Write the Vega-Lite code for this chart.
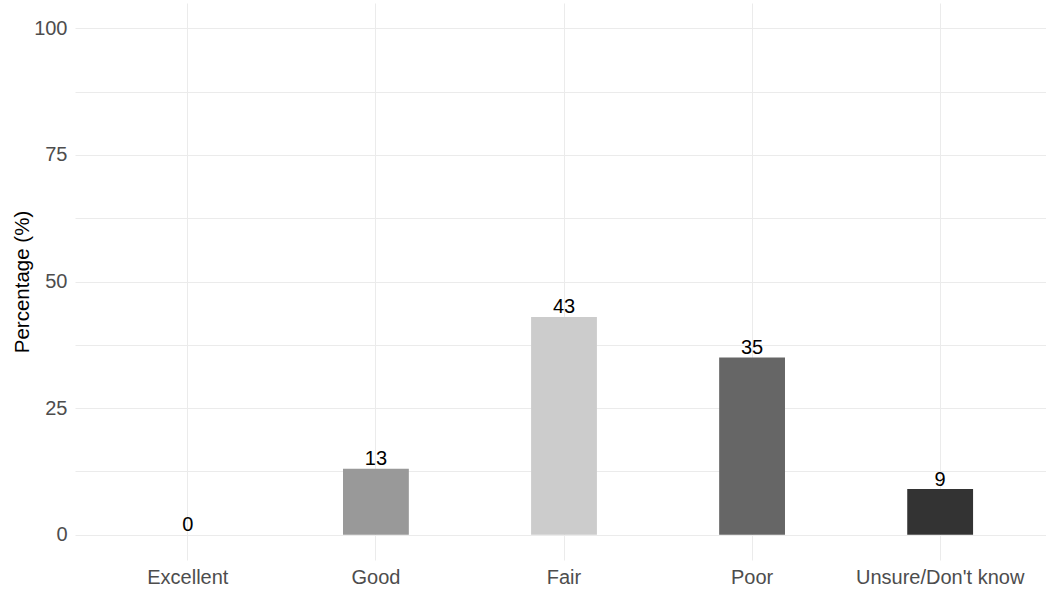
{
  "$schema": "https://vega.github.io/schema/vega-lite/v6.json",
  "autosize": {"type": "none"},
  "padding": {"left": 75, "top": 3, "right": 0, "bottom": 30},
  "width": 971,
  "height": 557,
  "background": "white",
  "config": {
    "view": {"stroke": null},
    "font": "Liberation Sans",
    "axis": {
      "domain": false,
      "ticks": false,
      "gridColor": "#EBEBEB",
      "gridWidth": 1,
      "labelColor": "#4D4D4D",
      "labelFont": "Liberation Sans",
      "labelFontSize": 20,
      "titleFont": "Liberation Sans",
      "titleFontWeight": "normal",
      "titleColor": "#000000"
    }
  },
  "data": {
    "values": [
      {"rating": "Excellent", "pct": 0, "shade": "#E5E5E5"},
      {"rating": "Good", "pct": 13, "shade": "#999999"},
      {"rating": "Fair", "pct": 43, "shade": "#CCCCCC"},
      {"rating": "Poor", "pct": 35, "shade": "#666666"},
      {"rating": "Unsure/Don't know", "pct": 9, "shade": "#333333"}
    ]
  },
  "encoding": {
    "x": {
      "field": "rating",
      "type": "nominal",
      "sort": null,
      "scale": {"range": [0, 978], "paddingInner": 0.65, "paddingOuter": 0.425},
      "axis": {
        "title": null,
        "labelAngle": 0,
        "labelPadding": 7,
        "grid": true,
        "bandPosition": 0.5
      }
    },
    "y": {
      "field": "pct",
      "type": "quantitative",
      "scale": {"domain": [-5, 105], "nice": false, "zero": false},
      "axis": {
        "title": "Percentage (%)",
        "titleFontSize": 20.5,
        "titleAngle": -90,
        "titleAlign": "center",
        "titleBaseline": "alphabetic",
        "titleX": -47,
        "titleY": 278.5,
        "values": [0, 12.5, 25, 37.5, 50, 62.5, 75, 87.5, 100],
        "labelExpr": "datum.value % 25 === 0 ? datum.label : ''",
        "labelPadding": 8
      }
    }
  },
  "layer": [
    {
      "mark": {"type": "bar"},
      "encoding": {
        "y2": {"datum": 0},
        "color": {"field": "shade", "type": "nominal", "scale": null, "legend": null}
      }
    },
    {
      "mark": {
        "type": "text",
        "baseline": "alphabetic",
        "dy": -3.5,
        "fontSize": 20,
        "color": "#000000"
      },
      "encoding": {
        "text": {"field": "pct", "type": "quantitative"}
      }
    }
  ]
}
